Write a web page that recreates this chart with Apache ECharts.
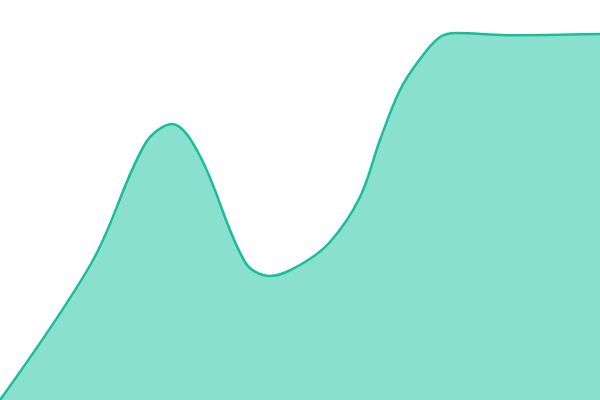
<!DOCTYPE html>
<html>
<head>
<meta charset="utf-8">
<script src="https://cdn.jsdelivr.net/npm/echarts@6/dist/echarts.min.js"></script>
<style>
  html, body { margin: 0; padding: 0; background: #fff; }
  #grf { width: 600px; height: 400px; }
</style>
</head>
<body>
<div id="grf"></div>
<script>
// Dados do grafico (posicao x e valor)
var posicoes = [0, 92, 145, 172, 200, 245, 270, 300, 330, 360, 380, 400, 420, 440, 457, 507, 600];
var valores  = [0, 34.5, 64, 69, 61, 34.5, 31, 33.75, 39.5, 50.75, 65, 77.5, 85.25, 90.75, 91.75, 91.2, 91.5];

var grafico = echarts.init(document.getElementById('grf'));

// Junta os pares [x, y]
var pontos = [];
for (var i = 0; i < posicoes.length; i++) {
	pontos.push([posicoes[i], valores[i]]);
}

var opcoes = {
	animation : false,
	grid : {
		top : 0,
		right : 0,
		bottom : 0,
		left : 0
	},
	xAxis : {
		type : 'value',
		min : 0,
		max : 600,
		show : false
	},
	yAxis : {
		type : 'value',
		min : 0,
		max : 100,
		show : false
	},
	series : [ {
		type : 'line',
		smooth : 0.35,
		showSymbol : false,
		data : pontos,
		lineStyle : {
			color : '#1abc9c',
			width : 2.5
		},
		areaStyle : {
			color : '#8ae0cf',
			opacity : 1
		}
	} ]
};

grafico.setOption(opcoes);
</script>
</body>
</html>
